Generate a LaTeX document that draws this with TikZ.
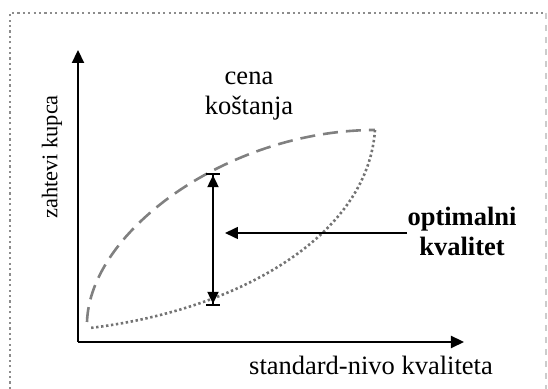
\documentclass[tikz,border=0pt]{standalone}
\usepackage{fontspec}
\setmainfont{Liberation Serif}
\usepackage{tikz}
\usetikzlibrary{arrows.meta,positioning}

\begin{document}
\begin{tikzpicture}[x=0.5pt, y=-0.5pt, >={Triangle[length=6.5pt,width=6pt]},
    axis/.style={line width=1.1pt, ->},
    lbl/.style={font=\fontsize{13.25}{15}\selectfont, inner sep=0pt},
    frame/.style={gray!90, line width=1.1pt, dash pattern=on 1.1pt off 1.6pt}]
  \useasboundingbox (0,0) rectangle (548,389);
  % frame
  \draw[frame] (10,389) -- (10,13) -- (546,13);
  \draw[gray!40, line width=0.6pt, dashed] (546,13) -- (546,389);
  % axes
  \coordinate (o) at (78,342);
  \coordinate (ytip) at (78,50);
  \coordinate (xtip) at (464,342);
  \draw[axis] (o) -- (ytip);
  \draw[axis] (o) -- (xtip);
  \node[lbl, rotate=90, font=\fontsize{11.2}{13}\selectfont] (ylab) at (52,157) {zahtevi kupca};
  \node[lbl] (xlab) at (371,365) {standard-nivo kvaliteta};
  % curves
  \coordinate (c0) at (87,322);
  \coordinate (c1) at (375,130);
  \coordinate (c2) at (90,328);
  \draw[gray, line width=1.3pt, dash pattern=on 7.5pt off 4pt]
    (c0) .. controls (90,230) and (230,130) .. (c1);
  \draw[gray!90!black, line width=1.3pt, dash pattern=on 1.2pt off 1.3pt]
    (c1) .. controls (368,235) and (240,310) .. (c2);
  \node[lbl, align=center] (cost) at (249,96) {cena\\ koštanja};
  % optimum
  \coordinate (top) at (213,173);
  \coordinate (bot) at (213,306);
  \draw[line width=1.1pt, {Bar[width=7pt]Triangle[length=6pt,width=5.5pt]}-{Triangle[length=6pt,width=5.5pt]Bar[width=7pt]}]
    (bot) -- (top);
  \node[lbl, align=center, font=\fontsize{13.25}{15}\bfseries] (opt) at (462,231) {optimalni\\ kvalitet};
  \coordinate (optend) at (225,233);
  \draw[line width=0.8pt, ->] (opt.west |- optend) -- (optend);
\end{tikzpicture}
\end{document}
